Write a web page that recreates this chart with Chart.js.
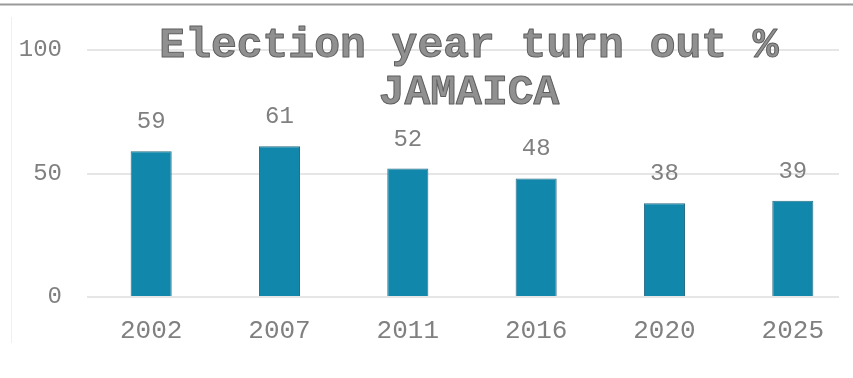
<!DOCTYPE html>
<html>
<head>
<meta charset="utf-8">
<script src="https://cdn.jsdelivr.net/npm/chart.js@4"></script>
<style>
html,body{margin:0;padding:0;background:#fff;}
#wrap{width:853px;height:378px;position:relative;}
</style>
</head>
<body>
<div id="wrap"><canvas id="c" width="853" height="378"></canvas></div>
<script>
const years = ["2002", "2007", "2011", "2016", "2020", "2025"];
const turnout = [59, 61, 52, 48, 38, 39];
const yTicks = [0, 50, 100];
const titleLines = ["Election year turn out %", "JAMAICA"];

const frame = {
  id: 'frame',
  beforeDraw(chart) {
    const ctx = chart.ctx;
    ctx.save();
    ctx.fillStyle = '#fff';
    ctx.fillRect(0, 0, chart.width, chart.height);
    ctx.strokeStyle = '#9a9a9a';
    ctx.lineWidth = 2;
    ctx.beginPath(); ctx.moveTo(0, 4.5); ctx.lineTo(chart.width, 4.5); ctx.stroke();
    ctx.strokeStyle = '#f0f0f0';
    ctx.lineWidth = 1;
    ctx.beginPath(); ctx.moveTo(11.5, 17); ctx.lineTo(11.5, 343); ctx.stroke();
    ctx.restore();
  }
};

const valueLabels = {
  id: 'valueLabels',
  afterDatasetsDraw(chart) {
    const ctx = chart.ctx;
    const meta = chart.getDatasetMeta(0);
    ctx.save();
    ctx.font = '24px "Liberation Mono", monospace';
    ctx.fillStyle = '#808080';
    ctx.textAlign = 'center';
    ctx.textBaseline = 'alphabetic';
    meta.data.forEach((bar, i) => {
      ctx.fillText(String(chart.data.datasets[0].data[i]), bar.x, bar.y - 23);
    });
    ctx.restore();
  }
};

const overlayTitle = {
  id: 'overlayTitle',
  afterDraw(chart) {
    const ctx = chart.ctx;
    const a = chart.chartArea;
    const cx = (a.left + a.right) / 2 + 6;
    ctx.save();
    ctx.font = 'bold 43px "Liberation Mono", monospace';
    ctx.textAlign = 'center';
    ctx.textBaseline = 'alphabetic';
    ctx.lineJoin = 'round';
    const ys = [57, 104];
    titleLines.forEach((t, i) => {
      ctx.fillStyle = '#909090';
      ctx.fillText(t, cx, ys[i]);
      ctx.strokeStyle = '#5e5e5e';
      ctx.lineWidth = 1;
      ctx.strokeText(t, cx, ys[i]);
    });
    ctx.restore();
  }
};

new Chart(document.getElementById('c'), {
  type: 'bar',
  data: {
    labels: years,
    datasets: [{
      data: turnout,
      backgroundColor: '#1187ab',
      borderColor: '#2a6c84',
      borderWidth: 1,
      categoryPercentage: 1,
      barPercentage: 0.32
    }]
  },
  options: {
    responsive: false,
    animation: false,
    devicePixelRatio: 1,
    layout: { padding: { left: 0, right: 14, top: 50, bottom: 0 } },
    plugins: { legend: { display: false }, title: { display: false }, tooltip: { enabled: false } },
    scales: {
      x: {
        grid: { display: false, drawTicks: false },
        border: { display: false },
        ticks: { color: '#808080', font: { family: '"Liberation Mono", monospace', size: 26 }, padding: 19, maxRotation: 0 },
        afterBuildTicks(s) { s._startValue = -0.5; s._valueRange = 5.86; },
        afterFit(s) { s.height = 81; }
      },
      y: {
        min: 0, max: 100,
        afterBuildTicks(s) { s.ticks = yTicks.map(v => ({ value: v })); },
        grid: { color: '#e6e6e6', lineWidth: 2, drawTicks: false },
        border: { display: false },
        ticks: { color: '#808080', font: { family: '"Liberation Mono", monospace', size: 24 }, padding: 25 },
        afterFit(s) { s.width = 87; }
      }
    }
  },
  plugins: [frame, valueLabels, overlayTitle]
});
</script>
</body>
</html>
